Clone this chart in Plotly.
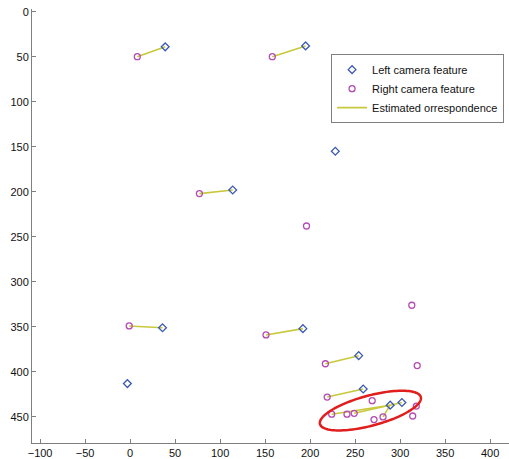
import numpy as np
import plotly.graph_objects as go

# Left camera features (diamonds)
left_x = [39, 195, 228, 114, 36, -3, 192, 254, 259, 289, 302]
left_y = [39, 38, 155, 198, 351, 413, 352, 382, 419, 437, 434]

# Right camera features (circles)
right_x = [8, 158, 77, 196, 313, -1, 151, 217, 319, 219, 269, 224, 241, 249, 281, 271, 314, 318]
right_y = [50, 50, 202, 238, 326, 349, 359, 391, 393, 428, 432, 447, 447, 446, 450, 453, 449, 438]

# Estimated correspondences (left point -> right point)
corr_lx = [39, 195, 114, 36, 192, 254, 259, 289, 302, 289]
corr_ly = [39, 38, 198, 351, 352, 382, 419, 437, 434, 437]
corr_rx = [8, 158, 77, -1, 151, 217, 219, 224, 249, 281]
corr_ry = [50, 50, 202, 349, 359, 391, 428, 447, 446, 450]

# Highlight ellipse (annotation) parameters in data units
ell_cx, ell_cy = 267, 443
ell_a, ell_b, ell_tilt_deg = 58, 16.7, 15

x_ticks = [-100, -50, 0, 50, 100, 150, 200, 250, 300, 350, 400]
y_ticks = [0, 50, 100, 150, 200, 250, 300, 350, 400, 450]

line_x, line_y = [], []
for lx, ly, rx, ry in zip(corr_lx, corr_ly, corr_rx, corr_ry):
    line_x += [lx, rx, None]
    line_y += [ly, ry, None]

fig = go.Figure()
fig.add_trace(go.Scatter(
    x=line_x, y=line_y, mode="lines", name="Estimated orrespondence",
    line=dict(color="#c8c83c", width=1.6), legendrank=3))
fig.add_trace(go.Scatter(
    x=left_x, y=left_y, mode="markers", name="Left camera feature",
    marker=dict(symbol="diamond-open", size=6, color="#3c5ab4", line=dict(width=1.3)),
    legendrank=1))
fig.add_trace(go.Scatter(
    x=right_x, y=right_y, mode="markers", name="Right camera feature",
    marker=dict(symbol="circle-open", size=6, color="#b44cb4", line=dict(width=1.3)),
    legendrank=2))

# ellipse path
t = np.linspace(0, 2 * np.pi, 120)
phi = np.deg2rad(ell_tilt_deg)
ex = ell_cx + ell_a * np.cos(t) * np.cos(phi) + ell_b * np.sin(t) * np.sin(phi)
ey = ell_cy - ell_a * np.cos(t) * np.sin(phi) + ell_b * np.sin(t) * np.cos(phi)
path = "M " + " L ".join(f"{a:.2f},{b:.2f}" for a, b in zip(ex, ey)) + " Z"
fig.add_shape(type="path", path=path, xref="x", yref="y",
              line=dict(color="#e01e1e", width=2.5))

axis_common = dict(
    showgrid=False, zeroline=False, showline=True, linecolor="#7f7f7f", linewidth=1,
    ticks="inside", ticklen=4, tickcolor="#7f7f7f", mirror=False,
    tickfont=dict(family="Liberation Sans, Arial", size=11, color="#111111"),
)
fig.update_xaxes(range=[-109, 421], tickvals=x_ticks, **axis_common)
fig.update_yaxes(range=[479, -3], tickvals=y_ticks, **axis_common)

fig.update_layout(
    width=509, height=459,
    margin=dict(l=32, r=0, t=9, b=16),
    plot_bgcolor="white", paper_bgcolor="white",
    showlegend=True,
    legend=dict(
        x=0.627, y=0.896, xanchor="left", yanchor="top",
        bgcolor="white", bordercolor="#7f7f7f", borderwidth=1,
        font=dict(family="Liberation Sans, Arial", size=11, color="#111111"),
        tracegroupgap=0, itemwidth=30,
    ),
)

fig.write_html("out.html")
